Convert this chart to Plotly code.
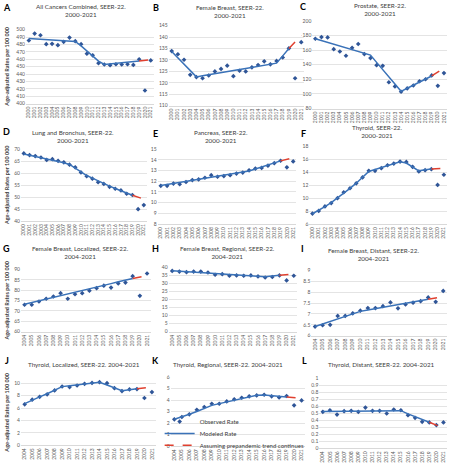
import plotly.graph_objects as go

W, H = 449, 468

YEARS_2000 = [2000, 2001, 2002, 2003, 2004, 2005, 2006, 2007, 2008, 2009, 2010,
              2011, 2012, 2013, 2014, 2015, 2016, 2017, 2018, 2019, 2020, 2021]
YEARS_2004 = [2004, 2005, 2006, 2007, 2008, 2009, 2010, 2011, 2012, 2013, 2014,
              2015, 2016, 2017, 2018, 2019, 2020, 2021]

# ---- A: All cancers combined
A_obs = [485.3, 494.7, 492.4, 480.4, 480.9, 479.0, 483.6, 489.3, 484.4, 480.4, 467.6,
         465.3, 454.7, 452.9, 452.0, 453.3, 452.9, 453.3, 452.4, 460.0, 417.8, 458.5]
A_mod = [488.0, 487.5, 487.0, 486.5, 486.0, 485.5, 485.0, 484.5, 484.0, 478.0, 471.0,
         464.0, 457.5, 453.0, 453.8, 454.6, 455.4, 456.2, 457.0, 457.8]
A_proj = [457.8, 458.6, 459.4]

# ---- B: Female breast
B_obs = [133.9, 132.5, 130.1, 123.5, 122.5, 122.0, 123.2, 125.0, 126.1, 127.5, 122.9,
         125.3, 125.0, 126.8, 127.8, 129.4, 128.1, 129.6, 131.1, 135.1, 122.0, 137.8]
B_mod = [133.7, 130.9, 128.1, 125.4, 122.6, 123.1, 123.5, 124.0, 124.4, 124.9, 125.4,
         125.8, 126.3, 126.8, 127.2, 127.7, 128.1, 128.6, 131.8, 135.0]
B_proj = [135.0, 137.9, 140.8]

# ---- C: Prostate
C_obs = [175.4, 177.7, 177.2, 161.2, 158.0, 152.2, 163.0, 168.3, 154.5, 149.1, 139.3,
         138.4, 116.0, 110.3, 103.1, 107.6, 111.6, 117.4, 120.1, 125.4, 111.2, 128.6]
C_mod = [175.4, 172.9, 170.4, 168.0, 165.5, 163.0, 160.5, 158.0, 155.6, 153.1, 143.2,
         133.3, 123.4, 113.5, 103.6, 107.8, 112.0, 116.2, 120.4, 124.6]
C_proj = [124.6, 129.9, 135.3]

# ---- D: Lung and bronchus
D_obs = [68.2, 67.5, 67.1, 66.5, 65.5, 65.8, 65.1, 64.5, 63.5, 62.4, 60.3,
         58.7, 57.7, 56.2, 55.5, 54.3, 53.5, 52.8, 51.4, 50.9, 45.0, 46.7]
D_mod = [68.0, 67.5, 67.0, 66.5, 65.9, 65.4, 64.9, 64.3, 63.6, 62.0, 60.4,
         59.0, 57.9, 56.7, 55.6, 54.6, 53.6, 52.6, 51.7, 50.8]
D_proj = [50.8, 50.0, 49.2]

# ---- E: Pancreas
E_obs = [11.57, 11.57, 11.78, 11.72, 11.93, 12.11, 12.17, 12.33, 12.57, 12.42, 12.48,
         12.57, 12.72, 12.81, 13.02, 13.18, 13.24, 13.45, 13.69, 13.91, 13.30, 13.85]
E_mod = [11.60, 11.70, 11.79, 11.89, 11.98, 12.08, 12.17, 12.27, 12.37, 12.46, 12.56,
         12.65, 12.75, 12.85, 12.95, 13.14, 13.33, 13.52, 13.71, 13.90]
E_proj = [13.90, 14.05, 14.20]

# ---- F: Thyroid
F_obs = [7.62, 8.03, 8.73, 9.24, 10.0, 10.91, 11.52, 12.28, 13.19, 14.2, 14.2,
         14.61, 15.06, 15.32, 15.62, 15.57, 14.81, 14.1, 14.3, 14.46, 12.03, 13.6]
F_mod = [7.6, 8.1, 8.7, 9.3, 10.0, 10.7, 11.5, 12.3, 13.2, 14.1, 14.4,
         14.7, 15.0, 15.3, 15.6, 15.4, 14.8, 14.2, 14.35, 14.5]
F_proj = [14.5, 14.55, 14.6]

# ---- G: Female breast, localized
G_obs = [73.0, 73.0, 74.6, 75.9, 77.0, 78.6, 75.9, 78.1, 78.6, 79.8, 81.0,
         82.2, 81.3, 83.3, 83.7, 86.8, 77.3, 88.1]
G_mod = [73.3, 74.1, 74.95, 75.8, 76.6, 77.4, 78.3, 79.1, 79.9, 80.7, 81.6,
         82.4, 83.2, 84.1, 84.9, 85.7]
G_proj = [85.7, 86.35, 87.0]

# ---- H: Female breast, regional
H_obs = [37.9, 37.5, 37.1, 37.5, 37.5, 36.9, 35.5, 35.9, 34.9, 35.1, 34.9,
         35.1, 34.5, 33.8, 34.1, 35.1, 32.0, 34.9]
H_mod = [38.0, 37.7, 37.4, 37.1, 36.8, 36.5, 36.2, 36.0, 35.7, 35.4, 35.1,
         34.8, 34.5, 34.2, 34.7, 35.2]
H_proj = [35.2, 35.6, 36.0]

# ---- I: Female breast, distant
I_obs = [6.42, 6.48, 6.50, 6.91, 6.91, 7.03, 7.15, 7.27, 7.27, 7.36, 7.53,
         7.26, 7.44, 7.52, 7.59, 7.76, 7.56, 8.06]
I_mod = [6.42, 6.54, 6.65, 6.77, 6.89, 7.00, 7.12, 7.18, 7.24, 7.31, 7.37,
         7.43, 7.49, 7.55, 7.62, 7.68]
I_proj = [7.68, 7.74, 7.80]

# ---- J: Thyroid, localized
J_obs = [6.6, 7.35, 7.8, 8.2, 8.84, 9.47, 9.37, 9.63, 9.9, 10.05, 10.16,
         10.0, 9.2, 8.73, 9.0, 9.05, 7.62, 8.57]
J_mod = [6.7, 7.3, 7.8, 8.3, 8.9, 9.45, 9.6, 9.75, 9.9, 10.05, 10.15,
         9.7, 9.25, 8.8, 8.95, 9.1]
J_proj = [9.1, 9.25, 9.4]

# ---- K: Thyroid, regional
K_obs = [2.34, 2.54, 2.77, 3.17, 3.41, 3.69, 3.69, 3.89, 4.07, 4.21, 4.33,
         4.41, 4.47, 4.33, 4.24, 4.36, 3.55, 3.98]
K_mod = [2.35, 2.55, 2.78, 3.02, 3.3, 3.55, 3.7, 3.85, 4.0, 4.15, 4.3,
         4.42, 4.45, 4.38, 4.33, 4.28]
K_proj = [4.28, 4.22, 4.16]

# ---- L: Thyroid, distant
L_obs = [0.519, 0.542, 0.48, 0.528, 0.533, 0.519, 0.58, 0.533, 0.533, 0.495, 0.552,
         0.542, 0.472, 0.434, 0.377, 0.368, 0.33, 0.368]
L_mod = [0.525, 0.526, 0.527, 0.528, 0.529, 0.53, 0.531, 0.532, 0.533, 0.534, 0.535,
         0.536, 0.49, 0.45, 0.41, 0.37]
L_proj = [0.37, 0.33, 0.29]

TITLES = {
    "A": "All Cancers Combined, SEER-22.<br>2000-2021",
    "B": "Female Breast, SEER-22.<br>2000-2021",
    "C": "Prostate, SEER-22.<br>2000-2021",
    "D": "Lung and Bronchus, SEER-22.<br>2000-2021",
    "E": "Pancreas, SEER-22.<br>2000-2021",
    "F": "Thyroid, SEER-22.<br>2000-2021",
    "G": "Female Breast, Localized, SEER-22.<br>2004-2021",
    "H": "Female Breast, Regional, SEER-22.<br>2004-2021",
    "I": "Female Breast, Distant, SEER-22.<br>2004-2021",
    "J": "Thyroid, Localized, SEER-22. 2004-2021",
    "K": "Thyroid, Regional, SEER-22. 2004-2021",
    "L": "Thyroid, Distant, SEER-22. 2004-2021",
}
YTITLE = "Age-adjusted Rates per 100 000"
LEGEND_NAMES = ["Observed Rate", "Modeled Rate", "Assuming prepandemic trend continues"]

# layout (pixels): plot box (left, right, top, bottom), title centre, letter centre
panels = [
    ("A", YEARS_2000, A_obs, A_mod, A_proj, (400, 500), 10, (25, 153, 27, 102), (80, 8), (6, 5)),
    ("B", YEARS_2000, B_obs, B_mod, B_proj, (110, 145), 5, (168, 304, 23, 104), (230, 9), (155, 5)),
    ("C", YEARS_2000, C_obs, C_mod, C_proj, (80, 200), 20, (312, 447, 18, 107), (380, 7), (303, 4)),
    ("D", YEARS_2000, D_obs, D_mod, D_proj, (40, 70), 5, (20, 146, 148, 221), (72, 135), (6, 130)),
    ("E", YEARS_2000, E_obs, E_mod, E_proj, (8, 15), 1, (157, 296, 148, 224), (220, 135), (155, 132)),
    ("F", YEARS_2000, F_obs, F_mod, F_proj, (6, 18), 2, (309, 447, 145, 224), (377, 130), (303, 132)),
    ("G", YEARS_2004, G_obs, G_mod, G_proj, (60, 90), 5, (20, 150, 270, 333), (80, 253), (6, 249)),
    ("H", YEARS_2004, H_obs, H_mod, H_proj, (0, 40), 5, (168, 297, 268, 333), (227, 253), (155, 249)),
    ("I", YEARS_2004, I_obs, I_mod, I_proj, (6, 9), 0.5, (311, 447, 271, 337), (373, 255), (302, 249)),
    ("J", YEARS_2004, J_obs, J_mod, J_proj, (0, 10.5), 2, (20, 155, 382, 448), (83, 366), (6, 362)),
    ("K", YEARS_2004, K_obs, K_mod, K_proj, (0, 6), 1, (170, 305, 379, 449), (228, 366), (155, 362)),
    ("L", YEARS_2004, L_obs, L_mod, L_proj, (0, 1), 0.1, (319, 447, 380, 451), (381, 366), (304, 362)),
]

OBS_COLOR = "#2F5597"
MOD_COLOR = "#3A72B8"
PROJ_COLOR = "#E0402F"
GRID = "#D9D9D9"
FONT = "Lato"

fig = go.Figure()
layout = dict(
    width=W, height=H, margin=dict(l=0, r=0, t=0, b=0),
    paper_bgcolor="white", plot_bgcolor="white",
    font=dict(family=FONT, size=5, color="#595959"),
    annotations=[],
)

def px(xp):
    return max(0.0, min(1.0, xp / W))

def py(yp):
    return max(0.0, min(1.0, 1 - yp / H))

for i, (key, years, obs, mod, proj, yr, dt, box, tpos, lpos) in enumerate(panels, start=1):
    xa = "x" if i == 1 else f"x{i}"
    ya = "y" if i == 1 else f"y{i}"
    show = key == "K"
    fig.add_trace(go.Scatter(
        x=years, y=obs, mode="markers", name=LEGEND_NAMES[0], xaxis=xa, yaxis=ya,
        marker=dict(symbol="diamond", size=3.6, color=OBS_COLOR), showlegend=show,
        legend="legend", cliponaxis=False))
    fig.add_trace(go.Scatter(
        x=years[:len(mod)], y=mod, mode="lines", name=LEGEND_NAMES[1], xaxis=xa, yaxis=ya,
        line=dict(color=MOD_COLOR, width=1.5), showlegend=show, legend="legend2"))
    fig.add_trace(go.Scatter(
        x=years[-len(proj):], y=proj, mode="lines", name=LEGEND_NAMES[2],
        xaxis=xa, yaxis=ya, line=dict(color=PROJ_COLOR, width=1.5, dash="dash"),
        showlegend=show, legend="legend3"))

    l, r, t, b = box
    xname = "xaxis" if i == 1 else f"xaxis{i}"
    yname = "yaxis" if i == 1 else f"yaxis{i}"
    layout[xname] = dict(
        domain=[px(l), px(r)], anchor=ya, range=[years[0] - 0.5, years[-1] + 0.5],
        tickmode="array", tickvals=years, ticktext=[str(v) for v in years], tickangle=-90,
        tickfont=dict(size=5, color="#595959"), showgrid=False, zeroline=False,
        showline=True, linecolor=GRID, linewidth=1, ticks="", fixedrange=True)
    layout[yname] = dict(
        domain=[py(b), py(t)], anchor=xa, range=list(yr), tick0=yr[0], dtick=dt,
        tickfont=dict(size=5, color="#595959"), showgrid=True, gridcolor=GRID, gridwidth=0.7,
        zeroline=False, showline=False, ticks="", fixedrange=True)

    layout["annotations"].append(dict(
        text=TITLES[key], x=px(tpos[0]), y=py(tpos[1]), xref="paper", yref="paper",
        xanchor="center", yanchor="middle", showarrow=False,
        font=dict(family=FONT, size=6.3, color="#404040")))
    layout["annotations"].append(dict(
        text=f"<b>{key}</b>", x=px(lpos[0]), y=py(lpos[1]), xref="paper", yref="paper",
        xanchor="center", yanchor="middle", showarrow=False,
        font=dict(family=FONT, size=9, color="#000000")))
    if key in ("A", "D", "G", "J"):
        layout["annotations"].append(dict(
            text=f"<b>{YTITLE}</b>", x=px(6), y=py((t + b) / 2), xref="paper", yref="paper",
            xanchor="center", yanchor="middle", textangle=-90, showarrow=False,
            font=dict(family=FONT, size=5.5, color="#404040")))

for name, ypix in (("legend", 424), ("legend2", 436), ("legend3", 448)):
    layout[name] = dict(
        x=px(159), y=py(ypix), xanchor="left", yanchor="middle", bgcolor="rgba(0,0,0,0)",
        font=dict(family=FONT, size=6, color="#404040"), itemwidth=30,
        borderwidth=0)

fig.update_layout(**layout)
fig.write_html(
    "out.html",
    config={"displayModeBar": False, "staticPlot": True},
    post_script="document.body.style.margin='0';document.body.style.overflow='hidden';",
)
